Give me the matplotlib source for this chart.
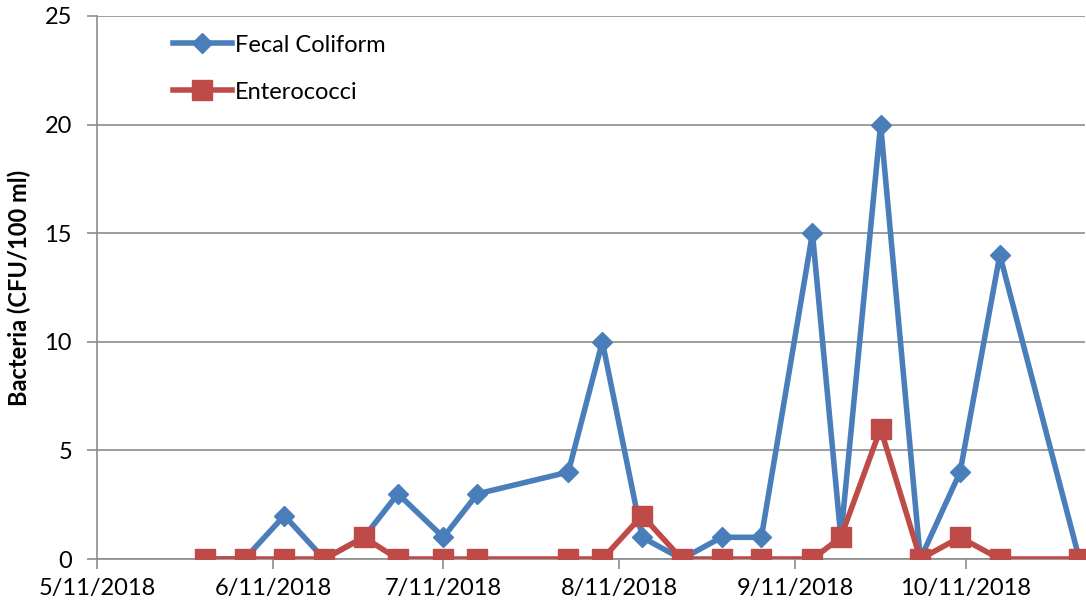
import datetime as dt
import matplotlib.pyplot as plt
import matplotlib.dates as mdates

plt.rcParams['font.family'] = ['Lato', 'DejaVu Sans']

sample_dates = ["2018-05-30", "2018-06-06", "2018-06-13", "2018-06-20", "2018-06-27",
                "2018-07-03", "2018-07-11", "2018-07-17", "2018-08-02", "2018-08-08",
                "2018-08-15", "2018-08-22", "2018-08-29", "2018-09-05", "2018-09-14",
                "2018-09-19", "2018-09-26", "2018-10-03", "2018-10-10", "2018-10-17",
                "2018-10-31"]
fecal_coliform = [0, 0, 2, 0, 1, 3, 1, 3, 4, 10, 1, 0, 1, 1, 15, 1, 20, 0, 4, 14, 0]
enterococci = [0, 0, 0, 0, 1, 0, 0, 0, 0, 0, 2, 0, 0, 0, 0, 1, 6, 0, 1, 0, 0]
tick_dates = ["2018-05-11", "2018-06-11", "2018-07-11", "2018-08-11", "2018-09-11", "2018-10-11"]

dates = [dt.datetime.strptime(d, "%Y-%m-%d") for d in sample_dates]
ticks = [dt.datetime.strptime(d, "%Y-%m-%d") for d in tick_dates]

fig = plt.figure(figsize=(10.86, 6.11), dpi=100)
ax = fig.add_axes([97 / 1086, 1 - 559 / 611, (1085 - 97) / 1086, (559 - 16) / 611])

ax.plot(dates, fecal_coliform, color="#4A7EBB", lw=4, marker="D", ms=10.5,
        label="Fecal Coliform", zorder=3)
ax.plot(dates, enterococci, color="#BE4B48", lw=4, marker="s", ms=14,
        label="Enterococci", zorder=4)

ax.set_ylim(0, 25)
ax.set_yticks(range(0, 26, 5))
ax.set_xlim(dt.datetime(2018, 5, 11), dt.datetime(2018, 11, 1))
ax.set_xticks(ticks)
ax.xaxis.set_major_formatter(
    plt.FuncFormatter(lambda v, p: "{d.month}/{d.day}/{d.year}".format(d=mdates.num2date(v))))

grid_color = "#8c8c8c"
ax.grid(axis="y", color=grid_color, lw=1.2)
ax.set_axisbelow(True)
for side in ("top", "right"):
    ax.spines[side].set_visible(False)
for side in ("left", "bottom"):
    ax.spines[side].set_color(grid_color)
    ax.spines[side].set_linewidth(1.2)
ax.tick_params(axis="both", colors=grid_color, labelcolor="black", labelsize=17,
               length=7, width=1.2, direction="out")
ax.tick_params(axis="x", pad=7)
ax.tick_params(axis="y", pad=11)

ax.set_ylabel("Bacteria (CFU/100 ml)", fontsize=17, fontweight="bold", labelpad=10)

leg = ax.legend(loc="upper left", bbox_to_anchor=(0.055, 1.005), frameon=False,
                fontsize=17, handlelength=2.5, labelspacing=1.1, handletextpad=0.15)

fig.savefig("out.png", dpi=100)
